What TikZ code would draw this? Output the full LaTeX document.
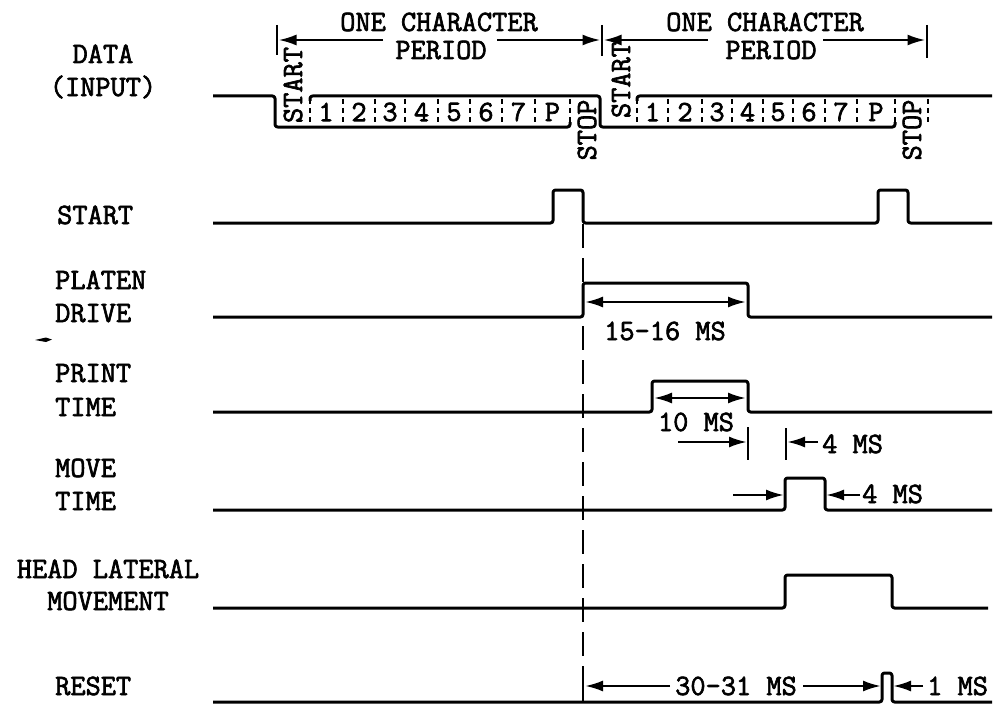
\documentclass[tikz,border=0pt]{standalone}
\usepackage{fontspec}
\setmonofont{Latin Modern Mono}[FakeBold=2.2]
\usetikzlibrary{arrows.meta}
\begin{document}
\begin{tikzpicture}[x=1pt,y=-1pt,
  lbl/.style={font=\fontsize{29.5}{34}\selectfont\ttfamily\bfseries, inner sep=0pt},
  wave/.style={line width=3pt, rounded corners=2.5pt, line join=round},
  sepline/.style={line width=2.6pt, dash pattern=on 5pt off 4pt},
  tickline/.style={line width=2.6pt},
  dimr/.style={line width=2.4pt, -{Latex[length=18pt,width=11pt]}},
  dimb/.style={line width=2.4pt, {Latex[length=18pt,width=11pt]}-{Latex[length=18pt,width=11pt]}},
  guide/.style={line width=2.8pt, dash pattern=on 24pt off 10pt}
]
\useasboundingbox (0,0) rectangle (994,709);

% ---------- left labels ----------
\node[lbl, anchor=base] (dataA) at (103,63) {DATA};
\node[lbl, anchor=base] (dataB) at (103,96) {(INPUT)};
\node[lbl, anchor=base west] (startL) at (57,224) {START};
\node[lbl, anchor=base west] (platenA) at (55,289) {PLATEN};
\node[lbl, anchor=base west] (platenB) at (55,322) {DRIVE};
\node[lbl, anchor=base west] (printA) at (55,382) {PRINT};
\node[lbl, anchor=base west] (printB) at (55,416) {TIME};
\node[lbl, anchor=base west] (moveA) at (55,477) {MOVE};
\node[lbl, anchor=base west] (moveB) at (55,510) {TIME};
\node[lbl, anchor=base] (headA) at (108,578) {HEAD LATERAL};
\node[lbl, anchor=base] (headB) at (108,610) {MOVEMENT};
\node[lbl, anchor=base west] (resetL) at (55,695) {RESET};

% stray mark
\fill (35,340) -- (46,337.5) -- (52,339.5) -- (46,342) -- cycle;

% ---------- DATA (INPUT) ----------
\draw[wave] (213,96) -- (275,96) -- (275,127) -- (570,127) -- (570,122);
\draw[wave] (310,101) -- (310,96) -- (600,96) -- (600,127) -- (895,127) -- (895,122);
\draw[wave] (637,101) -- (637,96) -- (992,96);
\foreach \x in {310,343,375,405,438,470,502,535,570}
  \draw[sepline] (\x,99) -- (\x,125);
\foreach \x in {637,668,702,732,763,793,825,857,895,928}
  \draw[sepline] (\x,99) -- (\x,125);
\foreach \x/\t/\n in {326/1/a,359/2/b,390/3/c,421.5/4/d,454/5/e,486/6/f,518.5/7/g,552.5/P/h}
  \node[lbl] (da\n) at (\x,112) {\t};
\foreach \x/\t/\n in {652.5/1/a,685/2/b,717/3/c,747.5/4/d,778/5/e,809/6/f,841/7/g,876/P/h}
  \node[lbl] (db\n) at (\x,112) {\t};
\node[lbl, rotate=90] (st1) at (293,85) {START};
\node[lbl, rotate=90] (sp1) at (587,130) {STOP};
\node[lbl, rotate=90] (st2) at (621,80) {START};
\node[lbl, rotate=90] (sp2) at (912,130) {STOP};

% one character period dimensions
\coordinate (t1) at (277,40);
\coordinate (t2) at (602,40);
\coordinate (t3) at (927,40);
\draw[tickline] (277,25) -- (277,55);
\draw[tickline] (602,25) -- (602,56);
\draw[tickline] (927,25) -- (927,58);
\node[lbl, anchor=base] (oc1) at (439,31) {ONE CHARACTER};
\node[lbl, anchor=base] (pd1) at (441,59) {PERIOD};
\node[lbl, anchor=base] (oc2) at (765,31) {ONE CHARACTER};
\node[lbl, anchor=base] (pd2) at (771,59) {PERIOD};
\coordinate (a1) at (383,40);
\coordinate (a2) at (497,40);
\coordinate (a3) at (708,40);
\coordinate (a4) at (823,40);
\draw[dimr] (a1) -- ([xshift=1.5pt]t1);
\draw[dimr] (a2) -- ([xshift=-1.5pt]t2);
\draw[dimr] (a3) -- ([xshift=1.5pt]t2);
\draw[dimr] (a4) -- ([xshift=-1.5pt]t3);

% ---------- START ----------
\draw[wave] (213,223) -- (553,223) -- (553,190) -- (583,190) -- (583,223) -- (878,223) -- (878,190) -- (908,190) -- (908,223) -- (992,223);

% guide line
\draw[guide] (583,224) -- (583,672);
\draw[tickline] (583,672) -- (583,702);

% ---------- PLATEN DRIVE ----------
\draw[wave] (213,317) -- (583,317) -- (583,283) -- (748,283) -- (748,317) -- (992,317);
\draw[dimb] (585,302) -- (746,302);
\node[lbl, anchor=base] (m1516) at (665,340) {15-16 MS};

% ---------- PRINT TIME ----------
\draw[wave] (213,412) -- (652,412) -- (652,381) -- (748,381) -- (748,412) -- (992,412);
\draw[dimb] (654,398) -- (746,398);
\node[lbl, anchor=base] (m10) at (696,431) {10 MS};
\draw[tickline] (748,427) -- (748,460);
\draw[tickline] (786,428) -- (786,460);
\draw[dimr] (678,442) -- (747,442);
\draw[dimr] (818,442) -- (787,442);
\node[lbl, anchor=base west] (m4a) at (822,453) {4 MS};

% ---------- MOVE TIME ----------
\draw[wave] (213,510) -- (785,510) -- (785,478) -- (825,478) -- (825,510) -- (992,510);
\draw[dimr] (733,495) -- (784,495);
\draw[dimr] (860,495) -- (826,495);
\node[lbl, anchor=base west] (m4b) at (862,503) {4 MS};

% ---------- HEAD LATERAL MOVEMENT ----------
\draw[wave] (213,608) -- (785,608) -- (785,575) -- (892,575) -- (892,608) -- (988,608);

% ---------- RESET ----------
\draw[wave] (213,702) -- (882,702) -- (882,673) -- (892,673) -- (892,702) -- (992,702);
\node[lbl, anchor=base] (m3031) at (736,695) {30-31 MS};
\draw[dimr] (670,686) -- (585,686);
\draw[dimr] (803,686) -- (881,686);
\draw[dimr] (923,686) -- (893,686);
\node[lbl, anchor=base west] (m1) at (927,695) {1 MS};

\end{tikzpicture}
\end{document}
